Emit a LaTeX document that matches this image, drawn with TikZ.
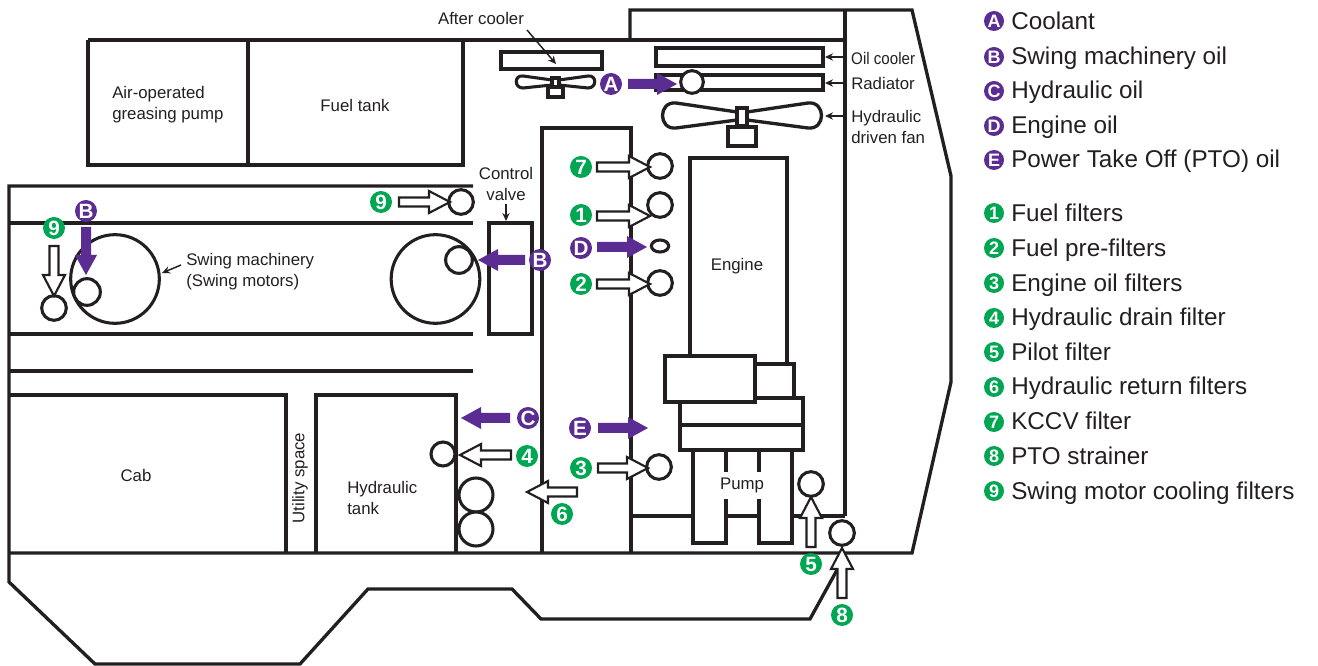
\documentclass[tikz,border=0pt]{standalone}
\usepackage{fontspec}
\setmainfont{Liberation Sans}
\usetikzlibrary{arrows.meta,shapes.geometric}
\definecolor{ink}{HTML}{231F20}
\definecolor{pur}{HTML}{5B2C91}
\definecolor{grn}{HTML}{00A651}
\tikzset{
  heavy/.style={draw=ink,line width=2.5pt,line join=miter},
  med/.style={draw=ink,line width=2.3pt},
  filt/.style={draw=ink,line width=2.3pt,fill=white,circle,inner sep=0pt},
  lbl/.style={text=ink,font=\fontsize{12.6}{15.6}\selectfont,inner sep=0pt,align=left},
  lblc/.style={text=ink,font=\fontsize{12.6}{15.6}\selectfont,inner sep=0pt,align=center},
  lgnd/.style={text=ink,font=\fontsize{18.2}{22}\selectfont,inner sep=0pt,anchor=base west},
  badge/.style={circle,inner sep=0pt,minimum size=16.5pt,text=white,font=\fontsize{15.5}{15.5}\selectfont\bfseries},
  pb/.style={badge,fill=pur},
  gb/.style={badge,fill=grn},
  lpb/.style={pb,minimum size=15pt,font=\fontsize{13.5}{13.5}\selectfont\bfseries},
  lgb/.style={gb,minimum size=15pt,font=\fontsize{13.5}{13.5}\selectfont\bfseries},
  thinarrow/.style={draw=ink,line width=1.1pt,-{Stealth[length=6pt,width=5.5pt]}},
  holl/.style={draw=ink,line width=1.6pt,fill=white,line join=miter},
  solidp/.style={fill=pur,draw=none},
}
% tip x, tip y, direction, length
\newcommand{\HollowArr}[4]{\begin{scope}[shift={(#1,#2)},rotate=#3]
  \path[holl] (0,0) -- (-21,11) -- (-21,4.5) -- (-#4,4.5) -- (-#4,-4.5) -- (-21,-4.5) -- (-21,-11) -- cycle;
\end{scope}}
\newcommand{\SolidArr}[4]{\begin{scope}[shift={(#1,#2)},rotate=#3]
  \path[solidp] (0,0) -- (-20,11) -- (-20,5) -- (-#4,5) -- (-#4,-5) -- (-20,-5) -- (-20,-11) -- cycle;
\end{scope}}
\begin{document}
\begin{tikzpicture}[x=0.75pt,y=-0.75pt]
\useasboundingbox (0,0) rectangle (1318,666);
% body outline
\path[heavy] (630,40) -- (630,10) -- (912,10) -- (951,176) -- (951,382) -- (912,553) -- (9,553);
\path[heavy] (88,40) -- (845,40);
\path[heavy] (845,10) -- (845,516);
\path[heavy] (88,40) -- (88,165) -- (463,165) -- (463,40);
\path[heavy] (248,40) -- (248,165);
% bands
\path[heavy] (473,186) -- (9,186) -- (9,582) -- (95,664) -- (300,664) -- (368,589) -- (512,589) -- (541,619) -- (810,619) -- (837,570);
\path[heavy] (9,223) -- (473,223);
\path[heavy] (9,334) -- (473,334);
\path[heavy] (9,371) -- (473,371);
% cab, tank, central block
\path[heavy] (9,395) -- (286,395) -- (286,553);
\path[heavy] (316,553) -- (316,395) -- (456,395) -- (456,553);
\path[heavy] (542,553) -- (542,128) -- (631,128) -- (631,553);
% coolers
\path[heavy] (501,52) rectangle (602,69);
\path[heavy] (656,48) rectangle (823,66);
\path[heavy] (656,75) rectangle (823,90);
% small fan
\path[med] (552,80) -- (523,76) .. controls (514,75) and (514,88) .. (523,88) -- (552,85) (559,80) -- (588,76) .. controls (597,75) and (597,88) .. (588,88) -- (559,85);
\path[med] (552,78) rectangle (559,87);
\path[med] (548,87) rectangle (563,97);
% large fan
\path[heavy] (737,112) -- (676,103) .. controls (658,101) and (658,130) .. (676,128) -- (737,120) (747,112) -- (808,103) .. controls (826,101) and (826,130) .. (808,128) -- (747,120);
\path[med] (737,108) rectangle (747,126);
\path[heavy] (728,127) rectangle (756,146);
% engine
\path[heavy] (690,356) -- (690,158) -- (787,158) -- (787,364);
\path[heavy] (755,364) rectangle (794,398);
\path[heavy] (665,356) rectangle (755,402);
\path[heavy] (680,402) -- (680,450) -- (803,450) -- (803,398) -- (755,398);
\path[heavy] (680,425) -- (803,425);
% pump
\path[heavy] (693,450) -- (693,543) -- (726,543) -- (726,499);
\path[heavy] (792,450) -- (792,543) -- (759,543) -- (759,499);
\path[heavy] (726,450) -- (726,472) (759,450) -- (759,472);
\path[heavy] (631,516) -- (693,516) (726,516) -- (759,516) (792,516) -- (845,516);
% swing machinery
\node[filt,minimum size=66.5pt] (bigL) at (115,279) {};
\node[filt,minimum size=66.5pt] (bigR) at (435.5,279) {};
\path[heavy,fill=white] (489,223) rectangle (532,334);
% filters
\node[filt,minimum size=18.5pt] (f7) at (660,166) {};
\node[filt,minimum size=18.5pt] (f1) at (660,205) {};
\node[draw=ink,line width=2.3pt,fill=white,ellipse,minimum width=13pt,minimum height=9pt,inner sep=0pt] (fD) at (660,246) {};
\node[filt,minimum size=18.5pt] (f2) at (660,283) {};
\node[filt,minimum size=18.5pt] (f3) at (659,467) {};
\node[filt,minimum size=18.5pt] (f5) at (811,484) {};
\node[filt,minimum size=18.5pt] (f8) at (842,533) {};
\node[filt,minimum size=18.5pt] (f9a) at (461,202) {};
\node[filt,minimum size=18.5pt] (f9b) at (54,308) {};
\node[filt,minimum size=20pt] (fBL) at (87,292) {};
\node[filt,minimum size=20pt] (fBR) at (459,260) {};
\node[filt,minimum size=18pt] (f4) at (443,454) {};
\node[filt,minimum size=25.5pt] (f6a) at (476,495) {};
\node[filt,minimum size=25.5pt] (f6b) at (476,529) {};
\node[filt,minimum size=17pt] (fA) at (692,82) {};
% hollow arrows
\HollowArr{650}{167}{0}{53}
\HollowArr{650}{216}{0}{53}
\HollowArr{650}{284}{0}{53}
\HollowArr{648}{468}{0}{50}
\HollowArr{450}{202}{0}{51}
\HollowArr{54}{296}{270}{50}
\HollowArr{460}{455}{180}{51}
\HollowArr{527}{492}{180}{50}
\HollowArr{811}{497}{90}{50}
\HollowArr{842}{548}{90}{50}
% solid arrows
\SolidArr{677}{84}{0}{49}
\SolidArr{86}{275}{270}{48}
\SolidArr{478}{260}{180}{47}
\SolidArr{647}{247}{0}{50}
\SolidArr{461}{418}{180}{49}
\SolidArr{648}{428}{0}{50}
% badges
\node[pb] (bA) at (611,84) {A};
\node[pb] (bB1) at (86,211) {B};
\node[pb] (bB2) at (540,260) {B};
\node[pb] (bC) at (528,418) {C};
\node[pb] (bD) at (581,248) {D};
\node[pb] (bE) at (580,428) {E};
\node[gb] (g7) at (581,167) {7};
\node[gb] (g1) at (581,215) {1};
\node[gb] (g2) at (581,284) {2};
\node[gb] (g3) at (581,468) {3};
\node[gb] (g4) at (527,456) {4};
\node[gb] (g5) at (811,564) {5};
\node[gb] (g6) at (562,514) {6};
\node[gb] (g8) at (842,615) {8};
\node[gb] (g9a) at (381,202) {9};
\node[gb] (g9b) at (54,228) {9};
% labels
\node[lblc] (lAfter) at (481,19) {After cooler};
\coordinate (tAfter) at (556,64);
\coordinate (sAfter) at (527,30);
\draw[thinarrow] (sAfter) -- (tAfter);
\node[lbl,anchor=west,xscale=.9] (lOil) at (851,58) {Oil cooler};
\coordinate (tOil) at (825,57);
\coordinate (sOil) at (845,57);
\draw[thinarrow] (sOil) -- (tOil);
\node[lbl,anchor=west] (lRad) at (851,83) {Radiator};
\coordinate (tRad) at (825,83);
\coordinate (sRad) at (845,83);
\draw[thinarrow] (sRad) -- (tRad);
\node[lbl,anchor=north west] (lFan) at (851,110) {Hydraulic\\driven fan};
\coordinate (sFan) at (845,116);
\coordinate (tFan) at (825,116);
\draw[thinarrow] (sFan) -- (tFan);
\node[lblc] (lCV) at (506,184) {Control\\valve};
\coordinate (sCV) at (506,204);
\coordinate (tCV) at (506,221);
\draw[thinarrow] (sCV) -- (tCV);
\node[lbl,anchor=west] (lSw) at (186,271.5) {Swing machinery\\(Swing motors)};
\coordinate (sSw) at (181,265);
\coordinate (tSw) at (162,273);
\draw[thinarrow] (sSw) -- (tSw);
\node[lbl,anchor=west] (lAir) at (112,105) {Air-operated\\greasing pump};
\node[lblc] (lFuel) at (355,105) {Fuel tank};
\node[lblc] (lEng) at (737,266) {Engine};
\node[lblc] (lCab) at (136,475) {Cab};
\node[lblc,rotate=90] (lUtil) at (300,478) {Utility space};
\node[lbl,anchor=west] (lHyd) at (347,498) {Hydraulic\\tank};
\node[lblc] (lPump) at (742,485) {Pump};
% legend
\foreach \nm/\ch/\yy/\by/\tx in {a/A/21/30/Coolant,b/B/57/65/Swing machinery oil,c/C/91/99/Hydraulic oil,d/D/126/134/Engine oil,e/E/160/168/Power Take Off (PTO) oil}{
  \node[lpb] (k\nm) at (994,\yy) {\ch};
  \node[lgnd] (t\nm) at (1011,\by) {\tx};
}
\foreach \ch/\yy/\by/\tx in {1/213/222/Fuel filters,2/248/257/Fuel pre-filters,3/283/292/Engine oil filters,4/318/326/Hydraulic drain filter,5/352/361/Pilot filter,6/387/395/Hydraulic return filters,7/422/430/KCCV filter,8/456/465/PTO strainer,9/491/499/Swing motor cooling filters}{
  \node[lgb] (k\ch) at (994,\yy) {\ch};
  \node[lgnd] (t\ch) at (1011,\by) {\tx};
}
\end{tikzpicture}
\end{document}
